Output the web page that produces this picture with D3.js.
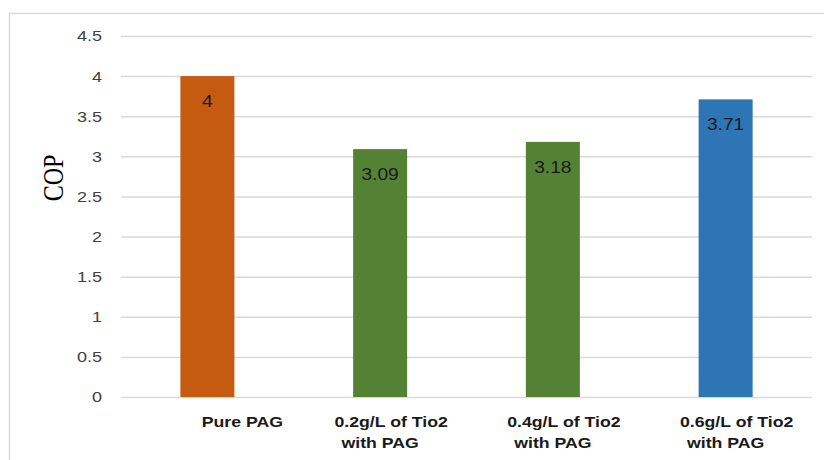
<!DOCTYPE html>
<html>
<head>
<meta charset="utf-8">
<script src="https://cdn.jsdelivr.net/npm/d3@7"></script>
<style>
  html, body { margin: 0; padding: 0; background: #fff; }
  svg { display: block; }
</style>
</head>
<body>
<svg id="chart" width="824" height="460"></svg>
<script>
// ---- data ----
const categories = ["Pure PAG", "0.2g/L of Tio2 with PAG", "0.4g/L of Tio2 with PAG", "0.6g/L of Tio2 with PAG"];
const labelLines = [["Pure PAG"], ["0.2g/L of Tio2", "with PAG"], ["0.4g/L of Tio2", "with PAG"], ["0.6g/L of Tio2", "with PAG"]];
const copValues = [4, 3.09, 3.18, 3.71];
const barColors = ["#C55A11", "#548235", "#548235", "#2E75B6"];
const yTicks = [0, 0.5, 1, 1.5, 2, 2.5, 3, 3.5, 4, 4.5];
const yTitle = "COP";

// ---- drawing ----
const svg = d3.select("#chart");
const stretch = 1.2;

// outer chart border (extends beyond the image at right/bottom)
svg.append("rect")
  .attr("x", 9.5).attr("y", 13.5)
  .attr("width", 900).attr("height", 600)
  .attr("fill", "none").attr("stroke", "#d9d9d9").attr("stroke-width", 1.5);

const x = d3.scaleBand().domain(categories).range([121, 812])
  .paddingInner(0.6874).paddingOuter(0.3437);
const y = d3.scaleLinear().domain([0, 4.5]).range([397, 36]);

// gridlines
const yAxis = d3.axisLeft(y).tickValues(yTicks).tickSize(-(812 - 121)).tickFormat("");
const gAxis = svg.append("g").attr("transform", "translate(121,0)").call(yAxis);
gAxis.select(".domain").remove();
gAxis.selectAll(".tick line").attr("stroke", "#d9d9d9").attr("stroke-width", 1.5);

// tick labels
svg.append("g").selectAll("text").data(yTicks).join("text")
  .attr("transform", d => `translate(102,${y(d)}) scale(${stretch},1)`)
  .attr("text-anchor", "end")
  .attr("dy", "0.36em")
  .attr("font-family", "Liberation Sans, Arial, sans-serif")
  .attr("font-size", 15)
  .attr("fill", "#404040")
  .text(d => d3.format("")(d));

// bars
svg.append("g").selectAll("rect").data(copValues).join("rect")
  .attr("x", (d, i) => x(categories[i]))
  .attr("y", d => y(d))
  .attr("width", x.bandwidth())
  .attr("height", d => y(0) - y(d))
  .attr("fill", (d, i) => barColors[i]);

// data labels (inside end)
svg.append("g").selectAll("text").data(copValues).join("text")
  .attr("transform", (d, i) => `translate(${x(categories[i]) + x.bandwidth() / 2},${y(d) + 31}) scale(${stretch},1)`)
  .attr("text-anchor", "middle")
  .attr("font-family", "Liberation Sans, Arial, sans-serif")
  .attr("font-size", 16)
  .attr("fill", "#1a1a1a")
  .text(d => String(d));

// category labels
const firstLineDx = [35, 11, 11, 11];
labelLines.forEach((lines, i) => {
  const cx = x(categories[i]) + x.bandwidth() / 2;
  lines.forEach((line, j) => {
    svg.append("text")
      .attr("transform", `translate(${cx + (j === 0 ? firstLineDx[i] : 0)},${427 + j * 21}) scale(1.18,1)`)
      .attr("text-anchor", "middle")
      .attr("font-family", "Liberation Sans, Arial, sans-serif")
      .attr("font-weight", "bold")
      .attr("font-size", 15)
      .attr("fill", "#1a1a1a")
      .text(line);
  });
});

// y-axis title
svg.append("text")
  .attr("transform", `translate(63,178) rotate(-90) scale(1,1.25)`)
  .attr("text-anchor", "middle")
  .attr("font-family", "Liberation Serif, Times New Roman, serif")
  .attr("font-size", 24)
  .attr("fill", "#000")
  .text(yTitle);
</script>
</body>
</html>
